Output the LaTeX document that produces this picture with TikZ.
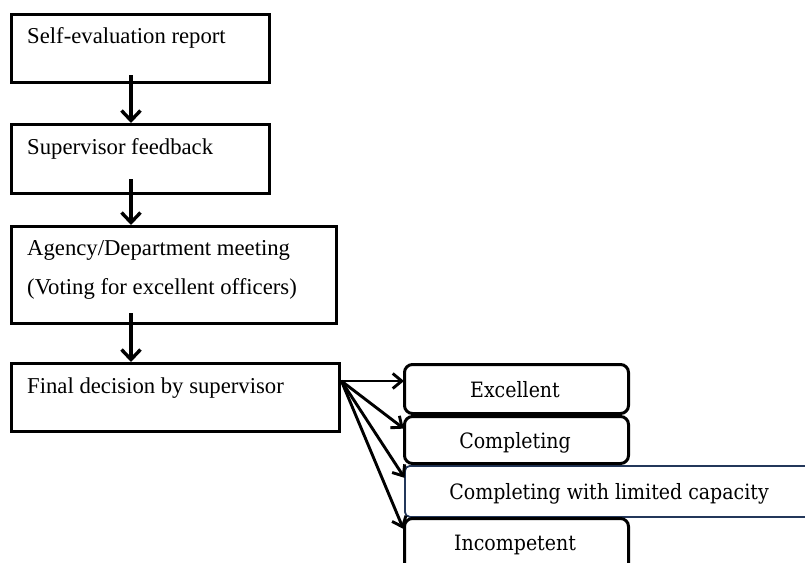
\documentclass[tikz,border=0pt]{standalone}
\usepackage{fontspec}
\setmainfont{Liberation Serif}
\newfontfamily\rightfont{DejaVu Serif Condensed}
\usetikzlibrary{arrows.meta}
\definecolor{navy}{RGB}{35,55,90}
\tikzset{
  box/.style={draw=black, line width=3.4pt, anchor=north west, inner sep=0pt},
  rbox/.style={draw=black, line width=3pt, rounded corners=8pt, anchor=north west, inner sep=0pt, minimum width=224pt},
  lbox/.style={draw=navy, line width=1.8pt, rounded corners=5pt, anchor=north west, inner sep=0pt},
  ltxt/.style={anchor=base west, inner sep=0pt, font=\fontsize{22.7}{27}\selectfont},
  rtxt/.style={anchor=base, inner sep=0pt, font=\rightfont\fontsize{21.1}{25}\selectfont},
  varr/.style={line width=3.4pt, -{Straight Barb[length=10pt,width=19pt]}},
  harr/.style={line width=2.9pt, -{Straight Barb[length=9pt,width=15pt]}, shorten >=-1pt}
}
\begin{document}
\begin{tikzpicture}[x=1pt,y=-1pt]
\useasboundingbox (0,0) rectangle (805,562);
% left boxes
\node[box, minimum width=258pt, minimum height=68pt] (b1) at (10,13) {};
\node[box, minimum width=258pt, minimum height=69pt] (b2) at (10,123) {};
\node[box, minimum width=325pt, minimum height=97pt] (b3) at (10,225) {};
\node[box, minimum width=328pt, minimum height=68pt] (b4) at (10,362) {};
\node[ltxt] (t1) at (27,43) {Self-evaluation report};
\node[ltxt] (t2) at (27,154) {Supervisor feedback};
\node[ltxt] (t3a) at (27,255) {Agency/Department meeting};
\node[ltxt] (t3b) at (27,294) {(Voting for excellent officers)};
\node[ltxt] (t4) at (27,393) {Final decision by supervisor};
% vertical arrows
\coordinate (ax) at (131,0);
\draw[varr] ([yshift=9pt]b1.south -| ax) -- (b2.north -| ax);
\draw[varr] ([yshift=16pt]b2.south -| ax) -- (b3.north -| ax);
\draw[varr] ([yshift=12pt]b3.south -| ax) -- (b4.north -| ax);
% right boxes
\node[lbox, minimum width=430pt, minimum height=51pt] (l) at (404,465) {};
\node[rbox, minimum height=49pt] (e) at (403,363) {};
\node[rbox, minimum height=47pt] (c) at (403,415) {};
\node[rbox, minimum height=80pt] (i) at (403,517) {};
\node[rtxt] (te) at (515,397) {Excellent};
\node[rtxt] (tc) at (515,448) {Completing};
\node[rtxt] (tl) at (609,499) {Completing with limited capacity};
\node[rtxt] (ti) at (515,550) {Incompetent};
% fan-out arrows
\coordinate (o) at ([yshift=-19pt]b4.north east);
\draw[harr] (o) -- ([yshift=-18pt]e.north west);
\draw[harr] (o) -- ([yshift=-13pt]c.north west);
\draw[harr] (o) -- ([yshift=-12pt]l.north west);
\draw[harr] (o) -- ([yshift=-11pt]i.north west);
\end{tikzpicture}
\end{document}
